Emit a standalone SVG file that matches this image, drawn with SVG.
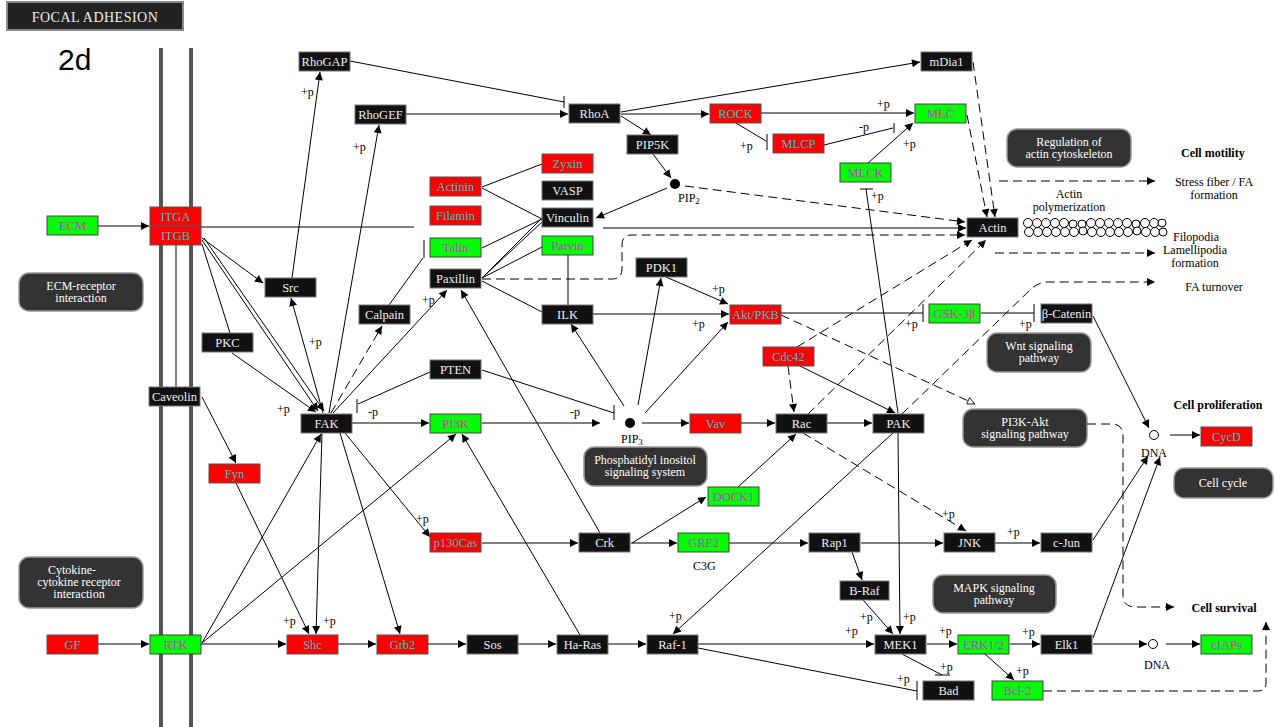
<svg xmlns="http://www.w3.org/2000/svg" width="1281" height="727" viewBox="0 0 1281 727">
<style>
.n text{font-family:"Liberation Serif",serif;font-size:12.5px;text-anchor:middle}
.k rect{fill:#111;stroke:#777;stroke-width:1}
.k text{fill:#eee}
.r rect{fill:#f00;stroke:#555;stroke-width:1}
.r text{fill:#2cc}
.g rect{fill:#0f0;stroke:#444;stroke-width:1}
.g text{fill:#c3c}
.pw rect{fill:#333;stroke:#999;stroke-width:1.5}
.pw text{fill:#fff;font-family:"Liberation Serif",serif;font-size:12px;text-anchor:middle}
#conn line,#conn path{stroke:#000;stroke-width:1;fill:none}
#conn .d{stroke-dasharray:9,5}
#conn .a{marker-end:url(#arr)}
#conn .o{marker-end:url(#open)}
.lb{font-family:"Liberation Serif",serif;font-size:12px;fill:#000}
.bd{font-family:"Liberation Serif",serif;font-size:12px;font-weight:bold;fill:#000}
.c{text-anchor:middle}
</style>
<defs>
<marker id="arr" viewBox="0 0 10 10" refX="10" refY="5" markerWidth="10" markerHeight="8" orient="auto" markerUnits="userSpaceOnUse"><path d="M0,0 L10,5 L0,10 z" fill="#000"/></marker>
<marker id="open" viewBox="0 0 10 10" refX="10" refY="5" markerWidth="10" markerHeight="8" orient="auto" markerUnits="userSpaceOnUse"><path d="M0.5,0.5 L9.5,5 L0.5,9.5 z" fill="#fff" stroke="#000"/></marker>
</defs>
<rect width="1281" height="727" fill="#fff"/>
<!-- title -->
<g id="title">
<rect x="7" y="2" width="176" height="28" fill="#222" stroke="#888" stroke-width="2"/>
<text x="95" y="22" font-family="Liberation Serif, serif" font-size="14" fill="#eee" text-anchor="middle" letter-spacing="0.5">FOCAL ADHESION</text>
</g>
<text x="58" y="70" font-family="Liberation Sans, sans-serif" font-size="30" fill="#000">2d</text>
<!-- membrane -->
<g id="membrane">
<rect x="159" y="48" width="4" height="679" fill="#555"/>
<rect x="189" y="48" width="4" height="679" fill="#555"/>
</g>
<!-- pathway boxes -->
<g id="pw-ecm" class="pw"><rect x="19" y="273" width="124" height="38" rx="10"/><text x="81" y="290">ECM-receptor</text><text x="81" y="302">interaction</text></g>
<g id="pw-cyt" class="pw"><rect x="19" y="557" width="124" height="51" rx="10"/><text x="72" y="574">Cytokine-</text><text x="79" y="586">cytokine receptor</text><text x="79" y="598">interaction</text></g>
<g id="pw-actin" class="pw"><rect x="1007" y="129" width="124" height="38" rx="10"/><text x="1069" y="146">Regulation of</text><text x="1069" y="158">actin cytoskeleton</text></g>
<g id="pw-wnt" class="pw"><rect x="987" y="333" width="104" height="39" rx="10"/><text x="1039" y="350">Wnt signaling</text><text x="1039" y="362">pathway</text></g>
<g id="pw-pi3k" class="pw"><rect x="963" y="409" width="124" height="38" rx="10"/><text x="1025" y="426">PI3K-Akt</text><text x="1025" y="438">signaling pathway</text></g>
<g id="pw-pis" class="pw"><rect x="584" y="447" width="123" height="39" rx="10"/><text x="645" y="464">Phosphatidyl inositol</text><text x="645" y="476">signaling system</text></g>
<g id="pw-cc" class="pw"><rect x="1174" y="468" width="99" height="30" rx="10"/><text x="1223" y="487">Cell cycle</text></g>
<g id="pw-mapk" class="pw"><rect x="933" y="575" width="123" height="38" rx="10"/><text x="994" y="592">MAPK signaling</text><text x="994" y="604">pathway</text></g>

<!-- connectors -->
<g id="conn">
<line class="a" x1="98" y1="226" x2="149" y2="226"/>
<line x1="201" y1="227" x2="414" y2="227"/>
<line class="a" x1="603" y1="228" x2="966" y2="228"/>
<line x1="350" y1="61" x2="564" y2="102"/><line x1="564" y1="96" x2="564" y2="108"/>
<line class="a" x1="406" y1="114" x2="568" y2="114"/>
<line class="a" x1="621" y1="114" x2="709" y2="114"/>
<line class="a" x1="621" y1="112" x2="920" y2="62"/>
<line class="a" x1="621" y1="116" x2="651" y2="135"/>
<line class="a" x1="653" y1="154" x2="671" y2="178"/>
<line class="a" x1="761" y1="113" x2="914" y2="113"/>
<line x1="736" y1="123" x2="766" y2="141"/><line x1="767" y1="134" x2="767" y2="150"/>
<line x1="824" y1="145" x2="893" y2="128"/><line x1="894" y1="123" x2="894" y2="133"/>
<line class="a" x1="868" y1="163" x2="913" y2="123"/>
<line x1="898" y1="413" x2="866" y2="189"/><line x1="860" y1="189" x2="873" y2="189"/>
<line class="a d" x1="973" y1="62" x2="995" y2="217"/>
<line class="a d" x1="967" y1="115" x2="987" y2="217"/>
<line class="a d" x1="685" y1="186" x2="965" y2="222"/>
<line class="a" x1="667" y1="188" x2="596" y2="218"/>
<line x1="482" y1="187" x2="542" y2="164"/>
<line x1="482" y1="188" x2="542" y2="219"/>
<line x1="482" y1="248" x2="542" y2="219"/>
<line x1="482" y1="278" x2="542" y2="218"/>
<line x1="482" y1="278" x2="542" y2="222"/>
<line x1="482" y1="278" x2="542" y2="247"/>
<line x1="568" y1="255" x2="568" y2="305"/>
<line x1="482" y1="281" x2="542" y2="312"/>
<path class="a d" d="M482,279 H612 Q622,279 622,269 V245 Q622,235 632,235 H965"/>
<line x1="389" y1="305" x2="423" y2="258"/><line x1="424" y1="240" x2="424" y2="258"/>
<line class="a d" x1="331" y1="413" x2="382" y2="326"/>
<line class="a" x1="329" y1="413" x2="379" y2="125"/>
<line class="a" x1="292" y1="278" x2="320" y2="72"/>
<line class="a" x1="323" y1="413" x2="291" y2="298"/>
<line class="a" x1="202" y1="238" x2="263" y2="283"/>
<line class="a" x1="202" y1="240" x2="318" y2="411"/>
<line class="a" x1="204" y1="238" x2="324" y2="411"/>
<line x1="202" y1="244" x2="230" y2="333"/>
<line class="a" x1="232" y1="353" x2="316" y2="412"/>
<line x1="176" y1="245" x2="176" y2="387"/>
<line class="a" x1="202" y1="397" x2="236" y2="463"/>
<line class="a" x1="333" y1="413" x2="447" y2="290"/>
<line class="a" x1="600" y1="533" x2="461" y2="290"/>
<line x1="430" y1="372" x2="358" y2="404"/><line x1="357" y1="399" x2="357" y2="413"/>
<line class="a" x1="352" y1="423" x2="429" y2="423"/>
<line class="a" x1="482" y1="423" x2="600" y2="423"/>
<line x1="482" y1="370" x2="614" y2="413"/><line x1="614" y1="405" x2="614" y2="420"/>
<line class="a" x1="624" y1="406" x2="571" y2="324"/>
<line class="a" x1="638" y1="405" x2="661" y2="278"/>
<line class="a" x1="645" y1="413" x2="728" y2="322"/>
<line class="a" x1="666" y1="277" x2="728" y2="304"/>
<line class="a" x1="593" y1="314" x2="729" y2="314"/>
<line class="a" x1="642" y1="423" x2="689" y2="423"/>
<line class="a" x1="741" y1="423" x2="775" y2="423"/>
<line class="a" x1="827" y1="423" x2="872" y2="423"/>
<line x1="781" y1="313" x2="923" y2="313"/><line x1="923" y1="304" x2="923" y2="322"/>
<line x1="981" y1="313" x2="1034" y2="313"/><line x1="1034" y1="304" x2="1034" y2="322"/>
<line class="a" x1="1093" y1="316" x2="1149" y2="428"/>
<line class="a" x1="1170" y1="435" x2="1200" y2="435"/>
<line class="o d" x1="781" y1="315" x2="975" y2="404"/>
<path class="a d" d="M1087,424 H1112 Q1123,424 1123,436 V595 Q1123,607 1135,607 H1174"/>
<line class="a d" x1="788" y1="366" x2="794" y2="412"/>
<line class="a" x1="800" y1="366" x2="895" y2="413"/>
<line class="a d" x1="797" y1="347" x2="972" y2="240"/>
<line class="a d" x1="808" y1="414" x2="986" y2="240"/>
<path class="a d" d="M902,414 L1030,290 Q1038,282 1048,282 H1155"/>
<line class="a d" x1="999" y1="181" x2="1155" y2="181"/>
<line class="a d" x1="995" y1="253" x2="1155" y2="253"/>
<line class="a d" x1="803" y1="433" x2="966" y2="531"/>
<line class="a" x1="738" y1="487" x2="796" y2="434"/>
<line class="a" x1="632" y1="543" x2="706" y2="497"/>
<line class="a" x1="631" y1="543" x2="677" y2="543"/>
<line class="a" x1="729" y1="543" x2="808" y2="543"/>
<line class="a" x1="861" y1="543" x2="943" y2="543"/>
<line class="a" x1="995" y1="543" x2="1040" y2="543"/>
<line class="a" x1="1093" y1="540" x2="1148" y2="456"/>
<line class="a" x1="482" y1="543" x2="578" y2="543"/>
<line class="a" x1="345" y1="433" x2="430" y2="537"/>
<line class="a" x1="340" y1="433" x2="400" y2="634"/>
<line class="a" x1="322" y1="433" x2="316" y2="634"/>
<line class="a" x1="236" y1="483" x2="309" y2="634"/>
<line class="a" x1="202" y1="643" x2="321" y2="434"/>
<line class="a" x1="202" y1="643" x2="456" y2="434"/>
<line class="a" x1="580" y1="635" x2="462" y2="434"/>
<line class="a" x1="98" y1="644" x2="149" y2="644"/>
<line class="a" x1="201" y1="644" x2="286" y2="644"/>
<line class="a" x1="338" y1="644" x2="376" y2="644"/>
<line class="a" x1="428" y1="644" x2="466" y2="644"/>
<line class="a" x1="518" y1="644" x2="556" y2="644"/>
<line class="a" x1="608" y1="644" x2="646" y2="644"/>
<line class="a" x1="698" y1="644" x2="874" y2="644"/>
<line class="a" x1="893" y1="433" x2="673" y2="634"/>
<line class="a" x1="898" y1="433" x2="900" y2="634"/>
<line class="a" x1="852" y1="552" x2="862" y2="580"/>
<line class="a" x1="863" y1="600" x2="893" y2="634"/>
<line class="a" x1="927" y1="644" x2="957" y2="644"/>
<line class="a" x1="1010" y1="644" x2="1040" y2="644"/>
<line class="a" x1="985" y1="654" x2="1014" y2="680"/>
<line x1="902" y1="654" x2="942" y2="675"/><line x1="935" y1="675" x2="950" y2="675"/>
<line x1="698" y1="648" x2="917" y2="691"/><line x1="917" y1="681" x2="917" y2="700"/>
<line class="a" x1="1093" y1="644" x2="1147" y2="644"/>
<line class="a" x1="1093" y1="638" x2="1160" y2="457"/>
<line class="a" x1="1166" y1="644" x2="1200" y2="644"/>
<path class="a d" d="M1043,691 H1258 Q1266,691 1266,683 V622"/>
</g>

<!-- compounds -->
<g id="pip2"><circle cx="675" cy="184" r="5" fill="#000"/><text class="lb" x="678" y="202">PIP<tspan font-size="9" dy="2">2</tspan></text></g>
<g id="pip3"><circle cx="630" cy="423" r="5" fill="#000"/><text class="lb" x="621" y="443">PIP<tspan font-size="9" dy="2">3</tspan></text></g>
<g id="dna1"><circle cx="1154" cy="435" r="4.5" fill="#fff" stroke="#000"/><text class="lb c" x="1154" y="457">DNA</text></g>
<g id="dna2"><circle cx="1153" cy="644" r="4.5" fill="#fff" stroke="#000"/><text class="lb c" x="1157" y="669">DNA</text></g>
<g id="actin-chain" fill="#fff" stroke="#000" stroke-width="1">
<circle cx="1028" cy="223" r="4.5"/><circle cx="1037" cy="223" r="4.5"/><circle cx="1046" cy="223" r="4.5"/><circle cx="1055" cy="223" r="4.5"/><circle cx="1064" cy="223" r="4.5"/><circle cx="1073" cy="224" r="4"/><circle cx="1082" cy="224" r="4"/><circle cx="1091" cy="223" r="4.5"/><circle cx="1100" cy="223" r="4.5"/><circle cx="1109" cy="223" r="4.5"/><circle cx="1118" cy="223" r="4.5"/><circle cx="1127" cy="223" r="4.5"/><circle cx="1136" cy="224" r="4"/><circle cx="1145" cy="223" r="4.5"/><circle cx="1154" cy="223" r="4.5"/><circle cx="1162" cy="223" r="4"/>
<circle cx="1029" cy="232" r="4.5"/><circle cx="1038" cy="232" r="4.5"/><circle cx="1047" cy="232" r="4.5"/><circle cx="1056" cy="232" r="4.5"/><circle cx="1065" cy="232" r="4.5"/><circle cx="1074" cy="232" r="4.5"/><circle cx="1083" cy="231" r="4"/><circle cx="1092" cy="232" r="4.5"/><circle cx="1101" cy="232" r="4.5"/><circle cx="1110" cy="232" r="4.5"/><circle cx="1119" cy="232" r="4.5"/><circle cx="1128" cy="232" r="4.5"/><circle cx="1137" cy="231" r="4"/><circle cx="1146" cy="232" r="4.5"/><circle cx="1155" cy="232" r="4.5"/><circle cx="1163" cy="232" r="4"/>
</g>

<!-- nodes -->
<g id="n-RhoGAP" class="n k"><rect x="299" y="52" width="51" height="19"/><text x="324.5" y="66">RhoGAP</text></g>
<g id="n-RhoGEF" class="n k"><rect x="355" y="105" width="51" height="19"/><text x="380.5" y="119">RhoGEF</text></g>
<g id="n-RhoA" class="n k"><rect x="569" y="104" width="51" height="19"/><text x="594.5" y="118">RhoA</text></g>
<g id="n-mDia1" class="n k"><rect x="921" y="52" width="51" height="19"/><text x="946.5" y="66">mDia1</text></g>
<g id="n-ROCK" class="n r"><rect x="710" y="104" width="51" height="19"/><text x="735.5" y="118">ROCK</text></g>
<g id="n-MLCP" class="n r"><rect x="773" y="134" width="51" height="19"/><text x="798.5" y="148">MLCP</text></g>
<g id="n-MLC" class="n g"><rect x="915" y="104" width="51" height="19"/><text x="940.5" y="118">MLC</text></g>
<g id="n-PIP5K" class="n k"><rect x="627" y="135" width="51" height="19"/><text x="652.5" y="149">PIP5K</text></g>
<g id="n-Zyxin" class="n r"><rect x="542" y="154" width="51" height="19"/><text x="567.5" y="168">Zyxin</text></g>
<g id="n-Actinin" class="n r"><rect x="430" y="177" width="51" height="19"/><text x="455.5" y="191">Actinin</text></g>
<g id="n-VASP" class="n k"><rect x="542" y="181" width="51" height="19"/><text x="567.5" y="195">VASP</text></g>
<g id="n-Filamin" class="n r"><rect x="430" y="206" width="51" height="19"/><text x="455.5" y="220">Filamin</text></g>
<g id="n-Vinculin" class="n k"><rect x="542" y="208" width="51" height="19"/><text x="567.5" y="222">Vinculin</text></g>
<g id="n-Talin" class="n g"><rect x="430" y="238" width="51" height="19"/><text x="455.5" y="252">Talin</text></g>
<g id="n-Parvin" class="n g"><rect x="542" y="236" width="51" height="19"/><text x="567.5" y="250">Parvin</text></g>
<g id="n-MLCK" class="n g"><rect x="840" y="163" width="51" height="19"/><text x="865.5" y="177">MLCK</text></g>
<g id="n-Actin" class="n k"><rect x="967" y="218" width="51" height="19"/><text x="992.5" y="232">Actin</text></g>
<g id="n-ECM" class="n g"><rect x="47" y="216" width="51" height="19"/><text x="72.5" y="230">ECM</text></g>
<g id="n-ITGA" class="n r"><rect x="150" y="207" width="51" height="19"/><text x="175.5" y="221">ITGA</text></g>
<g id="n-ITGB" class="n r"><rect x="150" y="226" width="51" height="19"/><text x="175.5" y="240">ITGB</text></g>
<g id="n-Src" class="n k"><rect x="265" y="278" width="51" height="19"/><text x="290.5" y="292">Src</text></g>
<g id="n-Paxillin" class="n k"><rect x="430" y="269" width="51" height="19"/><text x="455.5" y="283">Paxillin</text></g>
<g id="n-PDK1" class="n k"><rect x="636" y="258" width="51" height="19"/><text x="661.5" y="272">PDK1</text></g>
<g id="n-Calpain" class="n k"><rect x="359" y="305" width="51" height="19"/><text x="384.5" y="319">Calpain</text></g>
<g id="n-ILK" class="n k"><rect x="542" y="305" width="51" height="19"/><text x="567.5" y="319">ILK</text></g>
<g id="n-Akt" class="n r"><rect x="730" y="305" width="51" height="19"/><text x="755.5" y="319">Akt/PKB</text></g>
<g id="n-GSK3b" class="n g"><rect x="929" y="304" width="51" height="19"/><text x="954.5" y="318">GSK-3β</text></g>
<g id="n-bCatenin" class="n k"><rect x="1041" y="304" width="51" height="19"/><text x="1066.5" y="318">β-Catenin</text></g>
<g id="n-PKC" class="n k"><rect x="202" y="333" width="51" height="19"/><text x="227.5" y="347">PKC</text></g>
<g id="n-Cdc42" class="n r"><rect x="763" y="347" width="51" height="19"/><text x="788.5" y="361">Cdc42</text></g>
<g id="n-PTEN" class="n k"><rect x="430" y="360" width="51" height="19"/><text x="455.5" y="374">PTEN</text></g>
<g id="n-Caveolin" class="n k"><rect x="149" y="387" width="51" height="19"/><text x="174.5" y="401">Caveolin</text></g>
<g id="n-FAK" class="n k"><rect x="301" y="414" width="51" height="19"/><text x="326.5" y="428">FAK</text></g>
<g id="n-PI3K" class="n g"><rect x="430" y="414" width="51" height="19"/><text x="455.5" y="428">PI3K</text></g>
<g id="n-Vav" class="n r"><rect x="690" y="414" width="51" height="19"/><text x="715.5" y="428">Vav</text></g>
<g id="n-Rac" class="n k"><rect x="776" y="414" width="51" height="19"/><text x="801.5" y="428">Rac</text></g>
<g id="n-PAK" class="n k"><rect x="873" y="414" width="51" height="19"/><text x="898.5" y="428">PAK</text></g>
<g id="n-CycD" class="n r"><rect x="1201" y="427" width="51" height="19"/><text x="1226.5" y="441">CycD</text></g>
<g id="n-Fyn" class="n r"><rect x="209" y="464" width="51" height="19"/><text x="234.5" y="478">Fyn</text></g>
<g id="n-DOCK1" class="n g"><rect x="708" y="487" width="51" height="19"/><text x="733.5" y="501">DOCK1</text></g>
<g id="n-p130Cas" class="n r"><rect x="430" y="533" width="51" height="19"/><text x="455.5" y="547">p130Cas</text></g>
<g id="n-Crk" class="n k"><rect x="579" y="533" width="51" height="19"/><text x="604.5" y="547">Crk</text></g>
<g id="n-GRF2" class="n g"><rect x="678" y="533" width="51" height="19"/><text x="703.5" y="547">GRF2</text></g>
<g id="n-Rap1" class="n k"><rect x="809" y="533" width="51" height="19"/><text x="834.5" y="547">Rap1</text></g>
<g id="n-JNK" class="n k"><rect x="944" y="533" width="51" height="19"/><text x="969.5" y="547">JNK</text></g>
<g id="n-cJun" class="n k"><rect x="1041" y="533" width="51" height="19"/><text x="1066.5" y="547">c-Jun</text></g>
<g id="n-BRaf" class="n k"><rect x="840" y="581" width="49" height="19"/><text x="864.5" y="595">B-Raf</text></g>
<g id="n-GF" class="n r"><rect x="47" y="635" width="51" height="19"/><text x="72.5" y="649">GF</text></g>
<g id="n-RTK" class="n g"><rect x="150" y="635" width="51" height="19"/><text x="175.5" y="649">RTK</text></g>
<g id="n-Shc" class="n r"><rect x="287" y="635" width="51" height="19"/><text x="312.5" y="649">Shc</text></g>
<g id="n-Grb2" class="n r"><rect x="377" y="635" width="51" height="19"/><text x="402.5" y="649">Grb2</text></g>
<g id="n-Sos" class="n k"><rect x="467" y="635" width="51" height="19"/><text x="492.5" y="649">Sos</text></g>
<g id="n-HaRas" class="n k"><rect x="557" y="635" width="51" height="19"/><text x="582.5" y="649">Ha-Ras</text></g>
<g id="n-Raf1" class="n k"><rect x="647" y="635" width="51" height="19"/><text x="672.5" y="649">Raf-1</text></g>
<g id="n-MEK1" class="n k"><rect x="875" y="635" width="51" height="19"/><text x="900.5" y="649">MEK1</text></g>
<g id="n-ERK" class="n g"><rect x="958" y="635" width="51" height="19"/><text x="983.5" y="649">ERK1/2</text></g>
<g id="n-Elk1" class="n k"><rect x="1041" y="635" width="51" height="19"/><text x="1066.5" y="649">Elk1</text></g>
<g id="n-cIAPs" class="n g"><rect x="1201" y="635" width="51" height="19"/><text x="1226.5" y="649">cIAPs</text></g>
<g id="n-Bad" class="n k"><rect x="923" y="681" width="51" height="19"/><text x="948.5" y="695">Bad</text></g>
<g id="n-Bcl2" class="n g"><rect x="992" y="681" width="51" height="19"/><text x="1017.5" y="695">Bcl-2</text></g>

<!-- labels -->
<g id="labels">
<text class="lb" x="301" y="96">+p</text>
<text class="lb" x="353" y="151">+p</text>
<text class="lb" x="740" y="150">+p</text>
<text class="lb" x="877" y="108">+p</text>
<text class="lb" x="859" y="131">-p</text>
<text class="lb" x="903" y="148">+p</text>
<text class="lb" x="871" y="200">+p</text>
<text class="lb" x="309" y="346">+p</text>
<text class="lb" x="277" y="413">+p</text>
<text class="lb" x="368" y="416">-p</text>
<text class="lb" x="422" y="304">+p</text>
<text class="lb" x="712" y="293">+p</text>
<text class="lb" x="692" y="328">+p</text>
<text class="lb" x="570" y="416">-p</text>
<text class="lb" x="905" y="328">+p</text>
<text class="lb" x="1019" y="328">+p</text>
<text class="lb" x="416" y="523">+p</text>
<text class="lb" x="283" y="625">+p</text>
<text class="lb" x="323" y="625">+p</text>
<text class="lb" x="669" y="620">+p</text>
<text class="lb" x="942" y="518">+p</text>
<text class="lb" x="1007" y="536">+p</text>
<text class="lb" x="860" y="621">+p</text>
<text class="lb" x="903" y="621">+p</text>
<text class="lb" x="845" y="635">+p</text>
<text class="lb" x="939" y="635">+p</text>
<text class="lb" x="1022" y="636">+p</text>
<text class="lb" x="940" y="671">+p</text>
<text class="lb" x="1016" y="675">+p</text>
<text class="lb" x="897" y="683">+p</text>
<text class="lb" x="693" y="570">C3G</text>
<text class="bd" x="1181" y="157">Cell motility</text>
<text class="lb c" x="1214" y="186">Stress fiber / FA</text>
<text class="lb c" x="1214" y="199">formation</text>
<text class="lb c" x="1069" y="198">Actin</text>
<text class="lb c" x="1069" y="211">polymerization</text>
<text class="lb c" x="1196" y="241">Filopodia</text>
<text class="lb c" x="1195" y="254">Lamellipodia</text>
<text class="lb c" x="1195" y="267">formation</text>
<text class="lb c" x="1214" y="291">FA turnover</text>
<text class="bd c" x="1218" y="409">Cell proliferation</text>
<text class="bd c" x="1224" y="612">Cell survival</text>
</g>
</svg>
